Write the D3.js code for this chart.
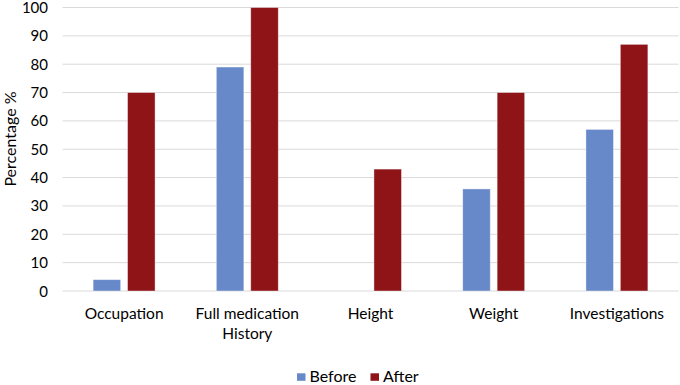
<!DOCTYPE html>
<html>
<head>
<meta charset="utf-8">
<script src="https://cdn.jsdelivr.net/npm/d3@7"></script>
<style>
  body { margin: 0; background: #fff; }
  svg { display: block; font-family: Lato, "Open Sans", sans-serif; }
</style>
</head>
<body>
<div id="chart"></div>
<script>
// grouped bars, before / after
const categories = ["Occupation", "Full medication History", "Height", "Weight", "Investigations"];
const categoryLines = [["Occupation"], ["Full medication", "History"], ["Height"], ["Weight"], ["Investigations"]];
const series = ["Before", "After"];
const before = [4, 79, 0, 36, 57];
const after = [70, 100, 43, 70, 87];
const yTicks = [0, 10, 20, 30, 40, 50, 60, 70, 80, 90, 100];
const colors = { Before: "#6788c9", After: "#8e1418" };

const W = 680, H = 385;
const margin = { left: 62.5, right: 1.5, top: 7.5, bottom: 94 };

const svg = d3.select("#chart").append("svg")
  .attr("width", W).attr("height", H);

const x0 = d3.scaleBand()
  .domain(categories)
  .range([margin.left, W - margin.right]);

const x1 = d3.scaleBand()
  .domain(series)
  .range([0, x0.bandwidth()])
  .paddingInner(0.2)
  .paddingOuter(0.89);

const y = d3.scaleLinear()
  .domain([0, 100])
  .range([H - margin.bottom, margin.top]);

// gridlines
svg.append("g")
  .selectAll("line")
  .data(yTicks)
  .join("line")
    .attr("x1", margin.left).attr("x2", W - margin.right)
    .attr("y1", d => y(d)).attr("y2", d => y(d))
    .attr("stroke", "#d9d9d9").attr("stroke-width", 1);

// y tick labels
svg.append("g")
  .selectAll("text")
  .data(yTicks)
  .join("text")
    .attr("x", 48)
    .attr("y", d => y(d) + 5.5)
    .attr("text-anchor", "end")
    .attr("fill", "#000")
    .style("font-size", "15px")
    .text(d => d);

// y title
svg.append("text")
  .attr("transform", "translate(16, 139) rotate(-90)")
  .attr("text-anchor", "middle")
  .attr("fill", "#000")
  .style("font-size", "16px")
  .text("Percentage %");

// bars
const rows = categories.map((c, i) => ({ cat: c, Before: before[i], After: after[i] }));
svg.append("g")
  .selectAll("g")
  .data(rows)
  .join("g")
    .attr("transform", d => `translate(${x0(d.cat)},0)`)
  .selectAll("rect")
  .data(d => series.map(s => ({ key: s, value: d[s] })))
  .join("rect")
    .attr("x", d => x1(d.key))
    .attr("width", x1.bandwidth())
    .attr("y", d => y(d.value))
    .attr("height", d => y(0) - y(d.value))
    .attr("fill", d => colors[d.key])
    .attr("stroke", d => d.value > 0 ? "#fff" : "none")
    .attr("stroke-opacity", 0.5)
    .attr("stroke-width", 0.8);

// x labels
const xl = svg.append("g")
  .selectAll("text")
  .data(categories)
  .join("text")
    .attr("x", d => x0(d) + x0.bandwidth() / 2)
    .attr("y", 318.5)
    .attr("text-anchor", "middle")
    .attr("fill", "#000")
    .style("font-size", "15.5px");
xl.selectAll("tspan")
  .data((d, i) => categoryLines[i])
  .join("tspan")
    .attr("x", function() { return d3.select(this.parentNode).attr("x"); })
    .attr("dy", (d, i) => i === 0 ? 0 : 20)
    .text(d => d);

// legend
const legend = svg.append("g").attr("transform", "translate(297, 382)");
const legendX = [0, 73.5];
series.forEach((s, i) => {
  const g = legend.append("g").attr("transform", `translate(${legendX[i]},0)`);
  g.append("rect").attr("x", 0).attr("y", -8.7).attr("width", 8.5).attr("height", 7.5)
    .attr("fill", colors[s]);
  g.append("text").attr("x", 12.5).attr("y", 0)
    .attr("fill", "#000").style("font-size", "16px").text(s);
});
</script>
</body>
</html>
